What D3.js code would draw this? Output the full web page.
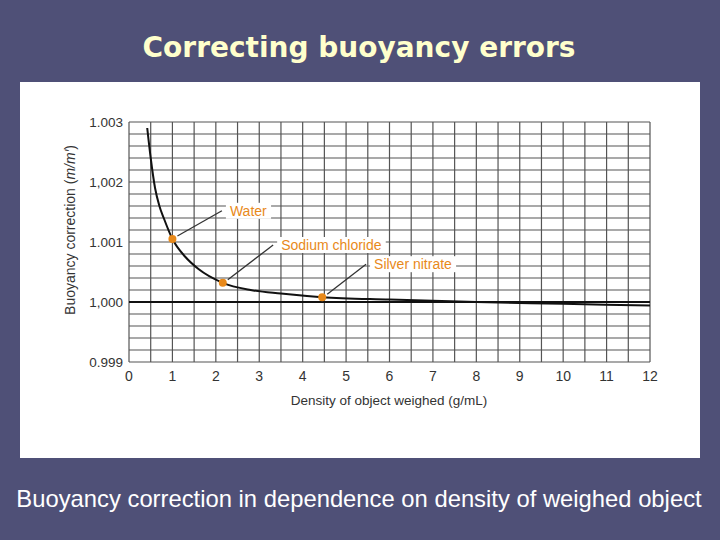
<!DOCTYPE html><html><head><meta charset="utf-8"><script src="https://cdn.jsdelivr.net/npm/d3@7"></script>
<style>body{margin:0;background:#4f5077}</style></head><body><svg id="c" width="720" height="540"></svg><script>
const curveX=[0.42,0.5,0.6,0.7,0.8,1.0,1.3,1.6,2.16,2.8,3.5,4.45,6,8,10,12];
const curveY=[1.0029,1.0024,1.0019,1.0016,1.0014,1.00105,1.00075,1.00055,1.00032,1.0002,1.00014,1.00008,1.00004,1.0000,0.99997,0.99994];
const ptNames=["Water","Sodium chloride","Silver nitrate"];
const ptX=[1.0,2.16,4.45];
const ptY=[1.00105,1.00032,1.00008];
const labelPos=[[2.14,1.00152],[3.32,1.00095],[5.46,1.00063]]; // data-space label anchor
const xTicks=d3.range(0,13);
const yTicks=[0.999,1.000,1.001,1.002,1.003];
const yTickLabels=["0.999","1,000","1.001","1,002","1.003"];
const svg=d3.select("#c");
svg.append("rect").attr("x",20).attr("y",82).attr("width",680).attr("height",376).attr("fill","#fff");
svg.append("text").attr("x",359).attr("y",57).attr("text-anchor","middle").attr("fill","#ffffcc").attr("font-family","DejaVu Sans").attr("font-weight","bold").attr("font-size",28).text("Correcting buoyancy errors");
svg.append("text").attr("x",359).attr("y",507).attr("text-anchor","middle").attr("fill","#fff").attr("font-family","Liberation Sans").attr("font-size",23.8).text("Buoyancy correction in dependence on density of weighed object");
const x=d3.scaleLinear().domain([0,12]).range([129,650]);
const y=d3.scaleLinear().domain([0.999,1.003]).range([362,122]);
const g=svg.append("g");
d3.range(0,12.01,0.5).forEach(v=>g.append("line").attr("x1",x(v)).attr("x2",x(v)).attr("y1",y(1.003)).attr("y2",y(0.999)).attr("stroke","#555").attr("stroke-width",1.2));
d3.range(0,21).forEach(i=>{const v=0.999+i*0.0002;g.append("line").attr("x1",x(0)).attr("x2",x(12)).attr("y1",y(v)).attr("y2",y(v)).attr("stroke",i==5?"#111":"#555").attr("stroke-width",i==5?2:1.2);});
const f="Liberation Sans";
xTicks.forEach(v=>svg.append("text").attr("x",x(v)).attr("y",381).attr("text-anchor","middle").attr("font-family",f).attr("font-size",14).attr("fill","#333").text(v));
yTicks.forEach((v,i)=>svg.append("text").attr("x",123).attr("y",y(v)+5).attr("text-anchor","end").attr("font-family",f).attr("font-size",13.5).attr("fill","#333").text(yTickLabels[i]));
svg.append("text").attr("x",389).attr("y",405).attr("text-anchor","middle").attr("font-family",f).attr("font-size",13.5).attr("fill","#333").text("Density of object weighed (g/mL)");
const yl=svg.append("text").attr("transform","translate(75,230) rotate(-90)").attr("text-anchor","middle").attr("font-family",f).attr("font-size",14).attr("fill","#333");
yl.append("tspan").text("Buoyancy correction (");yl.append("tspan").attr("font-style","italic").text("m/m′");yl.append("tspan").text(")");
svg.append("path").attr("d",d3.line().curve(d3.curveMonotoneX).x(d=>x(d[0])).y(d=>y(d[1]))(curveX.map((v,i)=>[v,curveY[i]]))).attr("fill","none").attr("stroke","#111").attr("stroke-width",2);
ptNames.forEach((n,i)=>{
 const lx=x(labelPos[i][0]),ly=y(labelPos[i][1]);
 svg.append("line").attr("x1",x(ptX[i])+5).attr("y1",y(ptY[i])-3).attr("x2",lx).attr("y2",ly).attr("stroke","#333").attr("stroke-width",1.3);
 const t=svg.append("text").attr("x",lx+8).attr("y",ly+5).attr("font-family",f).attr("font-size",14).attr("fill","#e8891a").text(n);
 const b=t.node().getBBox();
 svg.insert("rect",()=>t.node()).attr("x",b.x-4).attr("y",b.y).attr("width",b.width+8).attr("height",b.height).attr("fill","#fff");
 svg.append("circle").attr("cx",x(ptX[i])).attr("cy",y(ptY[i])).attr("r",4).attr("fill","#e8891a");
});
</script></body></html>
